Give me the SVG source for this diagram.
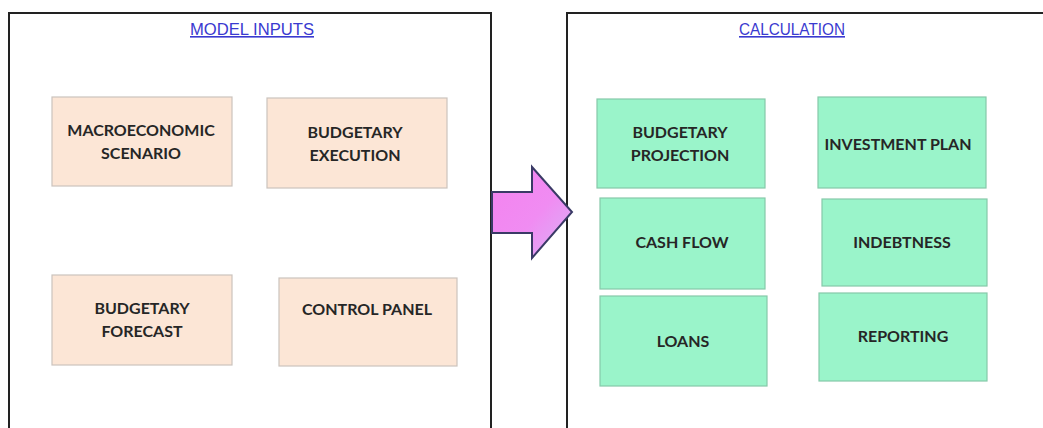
<svg xmlns="http://www.w3.org/2000/svg" width="1043" height="428" viewBox="0 0 1043 428">
  <style>
    .panel { fill: #ffffff; stroke: #222222; stroke-width: 2; }
    .title { font-family: "Liberation Sans", Arial, sans-serif; font-size: 16px; fill: #3a3ad0; text-decoration: underline; text-anchor: middle; }
    .input { fill: #fce6d6; stroke: #cbc3bd; stroke-width: 1.2; }
    .calc { fill: #9af4ca; stroke: #86c9a9; stroke-width: 1.2; }
    .lbl { font-family: Lato, "Liberation Sans", sans-serif; font-weight: bold; font-size: 16px; fill: #262626; text-anchor: middle; }
  </style>
  <defs>
    <linearGradient id="arrowFill" x1="0" y1="0" x2="1" y2="1">
      <stop offset="0" stop-color="#f482ef"/>
      <stop offset="0.55" stop-color="#f08cf2"/>
      <stop offset="1" stop-color="#d8b4f6"/>
    </linearGradient>
  </defs>
  <rect width="1043" height="428" fill="#ffffff"/>

  <!-- panels -->
  <g id="panel-inputs">
    <rect class="panel" x="9" y="13" width="482" height="430"/>
    <text class="title" x="252" y="35" textLength="124" lengthAdjust="spacingAndGlyphs">MODEL INPUTS</text>
  </g>
  <g id="panel-calculation">
    <rect class="panel" x="567" y="13" width="490" height="430"/>
    <text class="title" x="792" y="35" textLength="106" lengthAdjust="spacingAndGlyphs">CALCULATION</text>
  </g>

  <!-- input nodes -->
  <g id="macroeconomic-scenario">
    <rect class="input" x="52" y="97" width="180" height="89"/>
    <text class="lbl" x="141" y="136">MACROECONOMIC</text>
    <text class="lbl" x="141" y="159">SCENARIO</text>
  </g>
  <g id="budgetary-execution">
    <rect class="input" x="267" y="98" width="180" height="90"/>
    <text class="lbl" x="355" y="138">BUDGETARY</text>
    <text class="lbl" x="355" y="161">EXECUTION</text>
  </g>
  <g id="budgetary-forecast">
    <rect class="input" x="52" y="275" width="180" height="90"/>
    <text class="lbl" x="142" y="314">BUDGETARY</text>
    <text class="lbl" x="142" y="337">FORECAST</text>
  </g>
  <g id="control-panel">
    <rect class="input" x="279" y="278" width="178" height="88"/>
    <text class="lbl" x="367" y="315">CONTROL PANEL</text>
  </g>

  <!-- calculation nodes -->
  <g id="budgetary-projection">
    <rect class="calc" x="597" y="99" width="168" height="89"/>
    <text class="lbl" x="680" y="138">BUDGETARY</text>
    <text class="lbl" x="680" y="161">PROJECTION</text>
  </g>
  <g id="investment-plan">
    <rect class="calc" x="818" y="97" width="168" height="91"/>
    <text class="lbl" x="898" y="150">INVESTMENT PLAN</text>
  </g>
  <g id="cash-flow">
    <rect class="calc" x="600" y="198" width="165" height="91"/>
    <text class="lbl" x="682" y="248">CASH FLOW</text>
  </g>
  <g id="indebtness">
    <rect class="calc" x="822" y="199" width="165" height="87"/>
    <text class="lbl" x="902" y="248">INDEBTNESS</text>
  </g>
  <g id="loans">
    <rect class="calc" x="600" y="296" width="167" height="90"/>
    <text class="lbl" x="683" y="347">LOANS</text>
  </g>
  <g id="reporting">
    <rect class="calc" x="819" y="293" width="168" height="88"/>
    <text class="lbl" x="903" y="342">REPORTING</text>
  </g>

  <!-- connectors -->
  <g id="connectors">
    <path d="M492 192 L532 192 L532 167 L572 212 L532 258 L532 233 L492 233 Z" fill="url(#arrowFill)" stroke="#3a3a66" stroke-width="2" stroke-linejoin="miter"/>
  </g>
</svg>
